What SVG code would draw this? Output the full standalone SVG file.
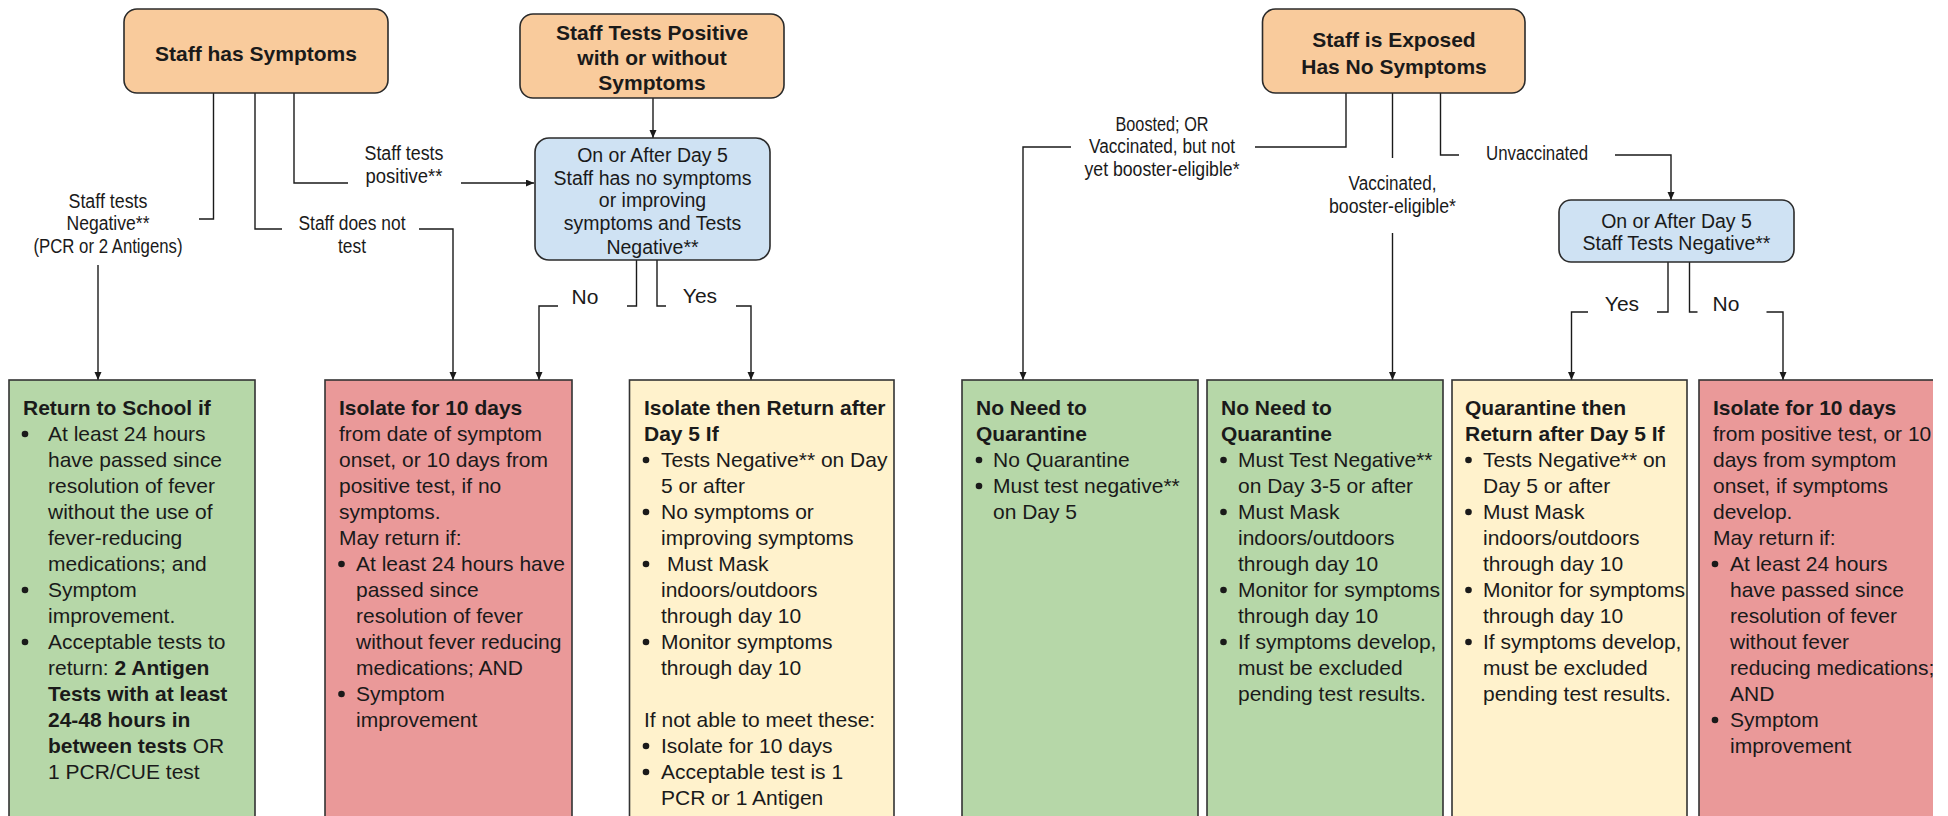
<svg xmlns="http://www.w3.org/2000/svg" width="1948" height="816" viewBox="0 0 1948 816">
<style>
.t{font-family:"Liberation Sans",Arial,sans-serif;font-size:21px;fill:#1a1a1a}
.b{font-weight:bold}
.c{text-anchor:middle}
.lbl{font-family:"Liberation Sans",Arial,sans-serif;font-size:19.5px;fill:#1a1a1a;text-anchor:middle}
.bl{font-family:"Liberation Sans",Arial,sans-serif;font-size:19.5px;fill:#1a1a1a;text-anchor:middle}
.top{stroke:#2b2b2b;stroke-width:1.6;fill:#f9cb9c}
.dec{stroke:#2b2b2b;stroke-width:1.6;fill:#cfe2f3}
.out{stroke:#333;stroke-width:1.6}
.g{fill:#b6d7a8}.r{fill:#ea9999}.y{fill:#fff2cc}
.conn{fill:none;stroke:#1a1a1a;stroke-width:1.4}
.dot{fill:#1a1a1a}
</style>
<defs>
<marker id="arr" markerUnits="userSpaceOnUse" markerWidth="9" markerHeight="8" refX="8" refY="3.5" orient="auto">
<path d="M0,0 L8,3.5 L0,7 z" fill="#1a1a1a"/>
</marker>
</defs>
<rect width="1948" height="816" fill="#fff"/>

<g id="connectors">
<polyline class="conn" points="213.5,93 213.5,219 199,219"/>
<polyline class="conn" points="98,265 98,380" marker-end="url(#arr)"/>
<polyline class="conn" points="255,93 255,229 282,229"/>
<polyline class="conn" points="419,229 453,229 453,380" marker-end="url(#arr)"/>
<polyline class="conn" points="294,93 294,183 348,183"/>
<polyline class="conn" points="461,183 534,183" marker-end="url(#arr)"/>
<polyline class="conn" points="653,98 653,138" marker-end="url(#arr)"/>
<polyline class="conn" points="636.5,260 636.5,306 627,306"/>
<polyline class="conn" points="558,306 539,306 539,380" marker-end="url(#arr)"/>
<polyline class="conn" points="657,260 657,306 666,306"/>
<polyline class="conn" points="736,306 751,306 751,380" marker-end="url(#arr)"/>
<polyline class="conn" points="1346,93 1346,147 1255,147"/>
<polyline class="conn" points="1071,147 1023,147 1023,380" marker-end="url(#arr)"/>
<polyline class="conn" points="1392.5,93 1392.5,158"/>
<polyline class="conn" points="1392.5,233 1392.5,380" marker-end="url(#arr)"/>
<polyline class="conn" points="1440.5,93 1440.5,155 1459,155"/>
<polyline class="conn" points="1615,155 1671,155 1671,200" marker-end="url(#arr)"/>
<polyline class="conn" points="1668,262 1668,312 1657,312"/>
<polyline class="conn" points="1588,312 1571.5,312 1571.5,380" marker-end="url(#arr)"/>
<polyline class="conn" points="1689.5,262 1689.5,312 1697.5,312"/>
<polyline class="conn" points="1766.5,312 1783,312 1783,380" marker-end="url(#arr)"/>
</g>

<g id="labels">
<text class="lbl" x="108" y="208" textLength="79" lengthAdjust="spacingAndGlyphs">Staff tests</text>
<text class="lbl" x="108" y="230" textLength="83" lengthAdjust="spacingAndGlyphs">Negative**</text>
<text class="lbl" x="108" y="253" textLength="149" lengthAdjust="spacingAndGlyphs">(PCR or 2 Antigens)</text>
<text class="lbl" x="352" y="229.5" textLength="107" lengthAdjust="spacingAndGlyphs">Staff does not</text>
<text class="lbl" x="352" y="253" textLength="28" lengthAdjust="spacingAndGlyphs">test</text>
<text class="lbl" x="404" y="160" textLength="79" lengthAdjust="spacingAndGlyphs">Staff tests</text>
<text class="lbl" x="404" y="183" textLength="77" lengthAdjust="spacingAndGlyphs">positive**</text>
<text class="bl" x="585" y="304" style="font-size:21px">No</text>
<text class="bl" x="700" y="303" style="font-size:21px">Yes</text>
<text class="lbl" x="1162" y="131" textLength="93" lengthAdjust="spacingAndGlyphs">Boosted; OR</text>
<text class="lbl" x="1162" y="153" textLength="146" lengthAdjust="spacingAndGlyphs">Vaccinated, but not</text>
<text class="lbl" x="1162" y="176" textLength="155" lengthAdjust="spacingAndGlyphs">yet booster-eligible*</text>
<text class="lbl" x="1392.5" y="190" textLength="88" lengthAdjust="spacingAndGlyphs">Vaccinated,</text>
<text class="lbl" x="1392.5" y="213" textLength="127" lengthAdjust="spacingAndGlyphs">booster-eligible*</text>
<text class="lbl" x="1537" y="160" textLength="102" lengthAdjust="spacingAndGlyphs">Unvaccinated</text>
<text class="bl" x="1622" y="311" style="font-size:21px">Yes</text>
<text class="bl" x="1726" y="311" style="font-size:21px">No</text>
</g>

<g id="staff-symptoms">
<rect class="top" x="124" y="9" width="264" height="84" rx="13"/>
<text class="t b c" x="256" y="60.5">Staff has Symptoms</text>
</g>
<g id="staff-positive">
<rect class="top" x="520" y="14" width="264" height="84" rx="13"/>
<text class="t b c" x="652" y="39.5">Staff Tests Positive</text>
<text class="t b c" x="652" y="64.5">with or without</text>
<text class="t b c" x="652" y="90">Symptoms</text>
</g>
<g id="staff-exposed">
<rect class="top" x="1262.5" y="9" width="262.5" height="84" rx="13"/>
<text class="t b c" x="1394" y="46.5">Staff is Exposed</text>
<text class="t b c" x="1394" y="73.5">Has No Symptoms</text>
</g>
<g id="decision-day5-symptoms">
<rect class="dec" x="535" y="138" width="235" height="122" rx="14"/>
<text class="bl" x="652.5" y="162">On or After Day 5</text>
<text class="bl" x="652.5" y="185">Staff has no symptoms</text>
<text class="bl" x="652.5" y="207">or improving</text>
<text class="bl" x="652.5" y="230">symptoms and Tests</text>
<text class="bl" x="652.5" y="254">Negative**</text>
</g>
<g id="decision-day5-negative">
<rect class="dec" x="1559" y="200" width="235" height="62" rx="12"/>
<text class="bl" x="1676.5" y="228">On or After Day 5</text>
<text class="bl" x="1676.5" y="250">Staff Tests Negative**</text>
</g>

<g id="return-to-school">
<rect class="out g" x="9" y="380" width="246" height="460"/>
<text class="t b" x="23" y="415">Return to School if</text>
<circle class="dot" cx="25" cy="434" r="3.3"/>
<text class="t" x="48" y="441">At least 24 hours</text>
<text class="t" x="48" y="467">have passed since</text>
<text class="t" x="48" y="493">resolution of fever</text>
<text class="t" x="48" y="519">without the use of</text>
<text class="t" x="48" y="545">fever-reducing</text>
<text class="t" x="48" y="571">medications; and</text>
<circle class="dot" cx="25" cy="590" r="3.3"/>
<text class="t" x="48" y="597">Symptom</text>
<text class="t" x="48" y="623">improvement.</text>
<circle class="dot" cx="25" cy="642" r="3.3"/>
<text class="t" x="48" y="649">Acceptable tests to</text>
<text class="t" x="48" y="675">return: <tspan class="b">2 Antigen</tspan></text>
<text class="t b" x="48" y="701">Tests with at least</text>
<text class="t b" x="48" y="727">24-48 hours in</text>
<text class="t" x="48" y="753"><tspan class="b">between tests</tspan> OR</text>
<text class="t" x="48" y="779">1 PCR/CUE test</text>
</g>

<g id="isolate-symptoms">
<rect class="out r" x="325" y="380" width="247" height="460"/>
<text class="t b" x="339" y="415">Isolate for 10 days</text>
<text class="t" x="339" y="441">from date of symptom</text>
<text class="t" x="339" y="467">onset, or 10 days from</text>
<text class="t" x="339" y="493">positive test, if no</text>
<text class="t" x="339" y="519">symptoms.</text>
<text class="t" x="339" y="545">May return if:</text>
<circle class="dot" cx="341.5" cy="564" r="3.3"/>
<text class="t" x="356" y="571">At least 24 hours have</text>
<text class="t" x="356" y="597">passed since</text>
<text class="t" x="356" y="623">resolution of fever</text>
<text class="t" x="356" y="649">without fever reducing</text>
<text class="t" x="356" y="675">medications; AND</text>
<circle class="dot" cx="341.5" cy="694" r="3.3"/>
<text class="t" x="356" y="701">Symptom</text>
<text class="t" x="356" y="727">improvement</text>
</g>

<g id="isolate-return-day5">
<rect class="out y" x="629.5" y="380" width="264.5" height="460"/>
<text class="t b" x="644" y="415">Isolate then Return after</text>
<text class="t b" x="644" y="441">Day 5 If</text>
<circle class="dot" cx="646" cy="460" r="3.3"/>
<text class="t" x="661" y="467">Tests Negative** on Day</text>
<text class="t" x="661" y="493">5 or after</text>
<circle class="dot" cx="646" cy="512" r="3.3"/>
<text class="t" x="661" y="519">No symptoms or</text>
<text class="t" x="661" y="545">improving symptoms</text>
<circle class="dot" cx="646" cy="564" r="3.3"/>
<text class="t" x="667" y="571">Must Mask</text>
<text class="t" x="661" y="597">indoors/outdoors</text>
<text class="t" x="661" y="623">through day 10</text>
<circle class="dot" cx="646" cy="642" r="3.3"/>
<text class="t" x="661" y="649">Monitor symptoms</text>
<text class="t" x="661" y="675">through day 10</text>
<text class="t" x="644" y="727">If not able to meet these:</text>
<circle class="dot" cx="646" cy="746" r="3.3"/>
<text class="t" x="661" y="753">Isolate for 10 days</text>
<circle class="dot" cx="646" cy="772" r="3.3"/>
<text class="t" x="661" y="779">Acceptable test is 1</text>
<text class="t" x="661" y="805">PCR or 1 Antigen</text>
</g>

<g id="no-quarantine-boosted">
<rect class="out g" x="962" y="380" width="236" height="460"/>
<text class="t b" x="976" y="415">No Need to</text>
<text class="t b" x="976" y="441">Quarantine</text>
<circle class="dot" cx="979" cy="460" r="3.3"/>
<text class="t" x="993" y="467">No Quarantine</text>
<circle class="dot" cx="979" cy="486" r="3.3"/>
<text class="t" x="993" y="493">Must test negative**</text>
<text class="t" x="993" y="519">on Day 5</text>
</g>

<g id="no-quarantine-eligible">
<rect class="out g" x="1207" y="380" width="236" height="460"/>
<text class="t b" x="1221" y="415">No Need to</text>
<text class="t b" x="1221" y="441">Quarantine</text>
<circle class="dot" cx="1223.5" cy="460" r="3.3"/>
<text class="t" x="1238" y="467">Must Test Negative**</text>
<text class="t" x="1238" y="493">on Day 3-5 or after</text>
<circle class="dot" cx="1223.5" cy="512" r="3.3"/>
<text class="t" x="1238" y="519">Must Mask</text>
<text class="t" x="1238" y="545">indoors/outdoors</text>
<text class="t" x="1238" y="571">through day 10</text>
<circle class="dot" cx="1223.5" cy="590" r="3.3"/>
<text class="t" x="1238" y="597">Monitor for symptoms</text>
<text class="t" x="1238" y="623">through day 10</text>
<circle class="dot" cx="1223.5" cy="642" r="3.3"/>
<text class="t" x="1238" y="649">If symptoms develop,</text>
<text class="t" x="1238" y="675">must be excluded</text>
<text class="t" x="1238" y="701">pending test results.</text>
</g>

<g id="quarantine-return-day5">
<rect class="out y" x="1452" y="380" width="235" height="460"/>
<text class="t b" x="1465" y="415">Quarantine then</text>
<text class="t b" x="1465" y="441">Return after Day 5 If</text>
<circle class="dot" cx="1468.5" cy="460" r="3.3"/>
<text class="t" x="1483" y="467">Tests Negative** on</text>
<text class="t" x="1483" y="493">Day 5 or after</text>
<circle class="dot" cx="1468.5" cy="512" r="3.3"/>
<text class="t" x="1483" y="519">Must Mask</text>
<text class="t" x="1483" y="545">indoors/outdoors</text>
<text class="t" x="1483" y="571">through day 10</text>
<circle class="dot" cx="1468.5" cy="590" r="3.3"/>
<text class="t" x="1483" y="597">Monitor for symptoms</text>
<text class="t" x="1483" y="623">through day 10</text>
<circle class="dot" cx="1468.5" cy="642" r="3.3"/>
<text class="t" x="1483" y="649">If symptoms develop,</text>
<text class="t" x="1483" y="675">must be excluded</text>
<text class="t" x="1483" y="701">pending test results.</text>
</g>

<g id="isolate-exposed">
<rect class="out r" x="1699" y="380" width="260" height="460"/>
<text class="t b" x="1713" y="415">Isolate for 10 days</text>
<text class="t" x="1713" y="441">from positive test, or 10</text>
<text class="t" x="1713" y="467">days from symptom</text>
<text class="t" x="1713" y="493">onset, if symptoms</text>
<text class="t" x="1713" y="519">develop.</text>
<text class="t" x="1713" y="545">May return if:</text>
<circle class="dot" cx="1715" cy="564" r="3.3"/>
<text class="t" x="1730" y="571">At least 24 hours</text>
<text class="t" x="1730" y="597">have passed since</text>
<text class="t" x="1730" y="623">resolution of fever</text>
<text class="t" x="1730" y="649">without fever</text>
<text class="t" x="1730" y="675">reducing medications;</text>
<text class="t" x="1730" y="701">AND</text>
<circle class="dot" cx="1715" cy="720" r="3.3"/>
<text class="t" x="1730" y="727">Symptom</text>
<text class="t" x="1730" y="753">improvement</text>
</g>
<rect x="1933" y="370" width="20" height="450" fill="#fff"/>
</svg>
